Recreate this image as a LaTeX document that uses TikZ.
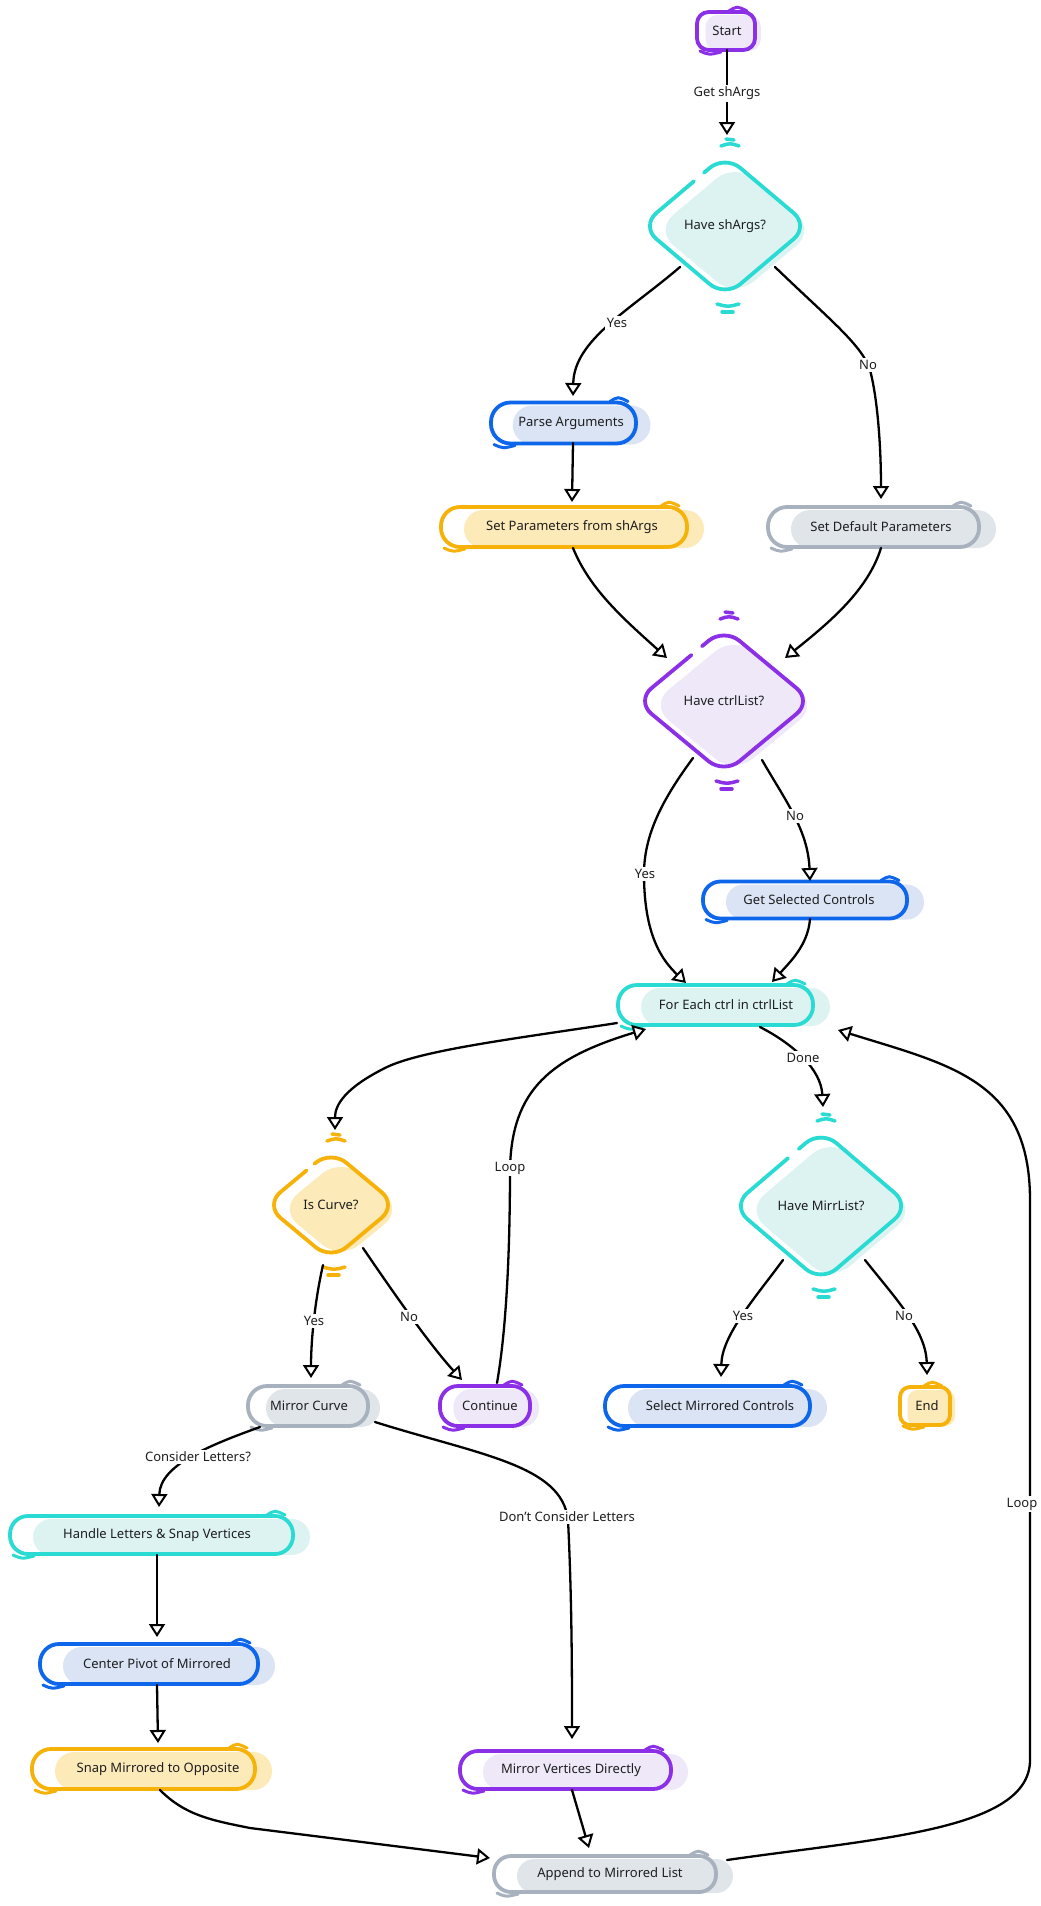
\documentclass[tikz,border=0pt]{standalone}
\usepackage{fontspec}
\setmainfont{Noto Sans}
\usetikzlibrary{arrows.meta,calc}
\definecolor{pu}{HTML}{8B30E6}
\definecolor{puF}{HTML}{EEE8F8}
\definecolor{cy}{HTML}{2ADBD3}
\definecolor{cyF}{HTML}{DDF3F2}
\definecolor{bl}{HTML}{0E66EA}
\definecolor{blF}{HTML}{DAE4F5}
\definecolor{ye}{HTML}{F7B20A}
\definecolor{yeF}{HTML}{FCEAB8}
\definecolor{gr}{HTML}{A7B2BE}
\definecolor{grF}{HTML}{E0E5EA}
\definecolor{txtc}{HTML}{1E1E1E}
\tikzset{
  txt/.style={font=\fontsize{13}{15}\selectfont, text=txtc, inner sep=0pt},
  nodeline/.style={line width=3.8pt, line cap=round, line join=round},
  edge/.style={line width=2.3pt, line cap=round, line join=round, black,
    -{Triangle[fill=white, length=13pt, width=16pt, line width=2pt]}},
  elbl/.style={font=\fontsize{13}{15}\selectfont, fill=white, inner sep=2pt, text=txtc},
}
% #1 name, #2 tx, #3 ty, #4 left, #5 right, #6 height, #7 colour, #8 text
\newcommand{\pill}[8]{%
  \pgfmathsetmacro{\pL}{#2-#4}%
  \pgfmathsetmacro{\pR}{#2+#5}%
  \pgfmathsetmacro{\pT}{#3-#6/2}%
  \pgfmathsetmacro{\pB}{#3+#6/2}%
  \pgfmathsetmacro{\pFo}{min(23,(#4+#5)*0.15)}%
  \pgfmathsetmacro{\pFr}{min(17,(#4+#5)*0.1)}%
  \pgfmathsetmacro{\pRad}{min(#6/2-1,(#4+#5)*0.2)}%
  \fill[#7F, rounded corners=\pRad pt] (\pL+\pFo,\pT+3) rectangle (\pR+\pFr,\pB+1);
  \draw[#7, nodeline, rounded corners=\pRad pt] (\pL,\pT) rectangle (\pR,\pB);
  \draw[#7, line width=3pt, line cap=round] (\pR-26,\pT-1) .. controls (\pR-18,\pT-6) .. (\pR-8,\pT-1);
  \draw[#7, line width=3pt, line cap=round] (\pL+3,\pB+1) .. controls (\pL+12,\pB+5) .. (\pL+24,\pB+2);
  \node[txt, minimum width={#4+#5}, minimum height=#6] (#1) at (#2,#3) {#8};
}
% #1 name, #2 cx, #3 cy, #4 w, #5 h, #6 colour, #7 text
\newcommand{\dia}[7]{%
  \pgfmathsetmacro{\dW}{#4/2}%
  \pgfmathsetmacro{\dH}{#5/2}%
  \pgfmathsetmacro{\fW}{#4/2-4}%
  \pgfmathsetmacro{\fH}{#5/2-4}%
  \fill[#6F, rounded corners=24pt] (#2+10+\fW/2, #3+4-\fH/2) -- (#2+10+\fW, #3+4) -- (#2+10, #3+4+\fH) -- (#2+10-\fW, #3+4) -- (#2+10, #3+4-\fH) -- cycle;
  \draw[#6, nodeline, rounded corners=20pt] (#2-0.25*\dW, #3-0.75*\dH) -- (#2, #3-\dH) -- (#2+\dW, #3) -- (#2, #3+\dH) -- (#2-\dW, #3) -- (#2-0.37*\dW, #3-0.63*\dH);
  \draw[#6, line width=3.5pt, line cap=round] (#2-4, #3-\dH-9) .. controls (#2+5,#3-\dH-12) .. (#2+14, #3-\dH-9);
  \draw[#6, line width=3.5pt, line cap=round] (#2+1, #3-\dH-16) -- (#2+9, #3-\dH-15);
  \draw[#6, line width=3.5pt, line cap=round] (#2-8, #3+\dH+7) .. controls (#2+3,#3+\dH+10) .. (#2+14, #3+\dH+7);
  \draw[#6, line width=3.5pt, line cap=round] (#2-3, #3+\dH+15) -- (#2+8, #3+\dH+15);
  \node[txt] (#1) at (#2,#3) {#7};
}
\begin{document}
\begin{tikzpicture}[x=1pt,y=-1pt]
\useasboundingbox (0,0) rectangle (1041,1906);
\clip (0,0) rectangle (1041,1906);
\fill[white] (0,0) rectangle (1041,1906);

% ---------- nodes ----------
\pill{start}{727}{31}{30}{28}{38}{pu}{Start}
\dia{hsa}{725}{226}{168}{142}{cy}{Have shArgs?}
\pill{parse}{571}{423}{80}{65}{41}{bl}{Parse Arguments}
\pill{setp}{572}{527}{131}{115}{40}{ye}{Set Parameters from shArgs}
\pill{setd}{881}{527}{113}{98}{40}{gr}{Set Default Parameters}
\dia{hcl}{724}{701}{176}{146}{pu}{Have ctrlList?}
\pill{getsel}{809}{900}{106}{98}{37}{bl}{Get Selected Controls}
\pill{foreach}{726}{1005}{108}{87}{40}{cy}{For Each ctrl in ctrlList}
\dia{isc}{331}{1205}{132}{110}{ye}{Is Curve?}
\dia{hml}{821}{1206}{178}{152}{cy}{Have MirrList?}
\pill{mcurve}{309}{1406}{61}{59}{40}{gr}{Mirror Curve}
\pill{cont}{490}{1406}{50}{40}{40}{pu}{Continue}
\pill{selm}{720}{1406}{115}{90}{40}{bl}{Select Mirrored Controls}
\pill{end}{927}{1406}{27}{23}{38}{ye}{End}
\pill{handle}{157}{1535}{147}{136}{38}{cy}{Handle Letters \& Snap Vertices}
\pill{cpivot}{157}{1664}{117}{101}{40}{bl}{Center Pivot of Mirrored}
\pill{snap}{158}{1769}{126}{97}{40}{ye}{Snap Mirrored to Opposite}
\pill{mvert}{571}{1770}{111}{100}{38}{pu}{Mirror Vertices Directly}
\pill{append}{610}{1874}{116}{106}{36}{gr}{Append to Mirrored List}

% ---------- connectors ----------
\draw[edge] ($(start)+(0,19)$) -- ($(hsa)+(2,-91)$);
\draw[edge] ($(hsa)+(-45,41)$) .. controls (630,310) and (574,340) .. ($(parse)+(2,-27)$);
\draw[edge] ($(hsa)+(50,41)$) .. controls (830,320) and (862,345) .. (870,370) .. controls (878,400) and (881,450) .. ($(setd)+(0,-28)$);
\draw[edge] ($(parse)+(2,20)$) -- ($(setp)+(0,-25)$);
\draw[edge] ($(setp)+(1,21)$) .. controls (590,590) and (625,620) .. ($(hcl)+(-57,-43)$);
\draw[edge] ($(setd)+(0,21)$) .. controls (868,590) and (830,622) .. ($(hcl)+(61,-43)$);
\draw[edge] ($(hcl)+(-31,57)$) .. controls (662,800) and (644,835) .. (644,874) .. controls (644,935) and (662,960) .. ($(foreach)+(-40,-22)$);
\draw[edge] ($(hcl)+(38,59)$) .. controls (785,800) and (808,830) .. ($(getsel)+(1,-19)$);
\draw[edge] ($(getsel)+(1,19)$) .. controls (808,945) and (790,962) .. ($(foreach)+(46,-23)$);
\draw[edge] ($(foreach)+(-109,18)$) .. controls (520,1038) and (420,1050) .. (385,1068) .. controls (345,1088) and (335,1105) .. ($(isc)+(4,-75)$);
\draw[edge] ($(cont)+(7,-23)$) .. controls (508,1320) and (510,1230) .. (510,1168) .. controls (512,1090) and (550,1058) .. ($(foreach)+(-80,24)$);
\draw[edge] ($(foreach)+(34,22)$) .. controls (795,1045) and (821,1070) .. ($(hml)+(2,-99)$);
\draw[edge] ($(isc)+(-8,60)$) .. controls (315,1300) and (311,1340) .. ($(mcurve)+(2,-28)$);
\draw[edge] ($(isc)+(32,43)$) .. controls (395,1295) and (430,1345) .. ($(cont)+(-28,-26)$);
\draw[edge] ($(hml)+(-38,54)$) .. controls (755,1298) and (722,1335) .. ($(selm)+(1,-29)$);
\draw[edge] ($(hml)+(44,54)$) .. controls (895,1298) and (926,1330) .. ($(end)+(0,-31)$);
\draw[edge] ($(mcurve)+(-49,21)$) .. controls (210,1445) and (160,1465) .. ($(handle)+(2,-28)$);
\draw[edge] ($(mcurve)+(66,16)$) .. controls (480,1455) and (562,1465) .. (568,1520) .. controls (572,1600) and (572,1680) .. ($(mvert)+(1,-31)$);
\draw[edge] ($(handle)+(0,20)$) -- ($(cpivot)+(0,-27)$);
\draw[edge] ($(cpivot)+(0,21)$) -- ($(snap)+(0,-26)$);
\draw[edge] ($(snap)+(2,21)$) .. controls (185,1815) and (210,1820) .. (250,1828) -- ($(append)+(-120,-16)$);
\draw[edge] ($(mvert)+(1,20)$) -- ($(append)+(-21,-26)$);
\draw[edge] ($(append)+(117,-14)$) .. controls (880,1838) and (1030,1830) .. (1030,1760) -- (1030,1200) .. controls (1030,1080) and (950,1065) .. ($(foreach)+(112,25)$);

% ---------- connector labels ----------
\node[elbl] (lgsa) at (727,93) {Get shArgs};
\node[elbl] (ly1) at (617,323) {Yes};
\node[elbl] (ln1) at (868,365) {No};
\node[elbl] (ln2) at (795,816) {No};
\node[elbl] (ly2) at (645,874) {Yes};
\node[elbl] (ldone) at (803,1058) {Done};
\node[elbl] (lloop1) at (510,1168) {Loop};
\node[elbl] (ly3) at (314,1321) {Yes};
\node[elbl] (ln3) at (409,1317) {No};
\node[elbl] (ly4) at (743,1316) {Yes};
\node[elbl] (ln4) at (904,1316) {No};
\node[elbl] (lcons) at (198,1457) {Consider Letters?};
\node[elbl] (ldont) at (567,1517) {Don't Consider Letters};
\node[elbl] (lloop2) at (1022,1504) {Loop};
\end{tikzpicture}
\end{document}
